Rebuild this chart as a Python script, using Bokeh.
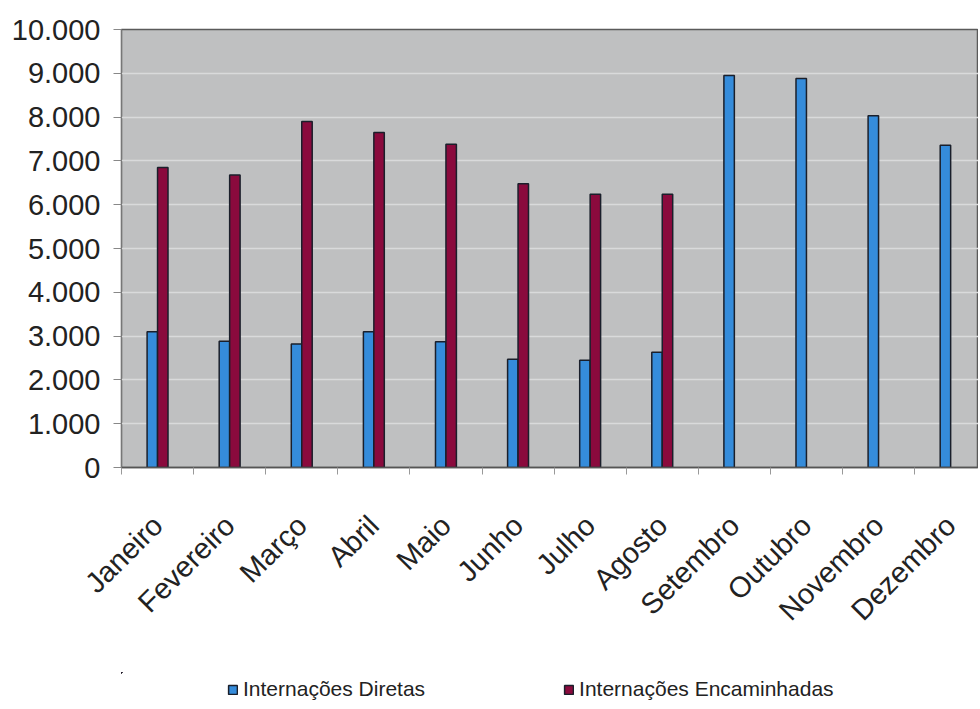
import math
from bokeh.plotting import figure
from bokeh.layouts import column
from bokeh.models import FixedTicker, Legend, LegendItem, Range1d, ColumnDataSource
from bokeh.embed import file_html
from bokeh.resources import INLINE

months = ["Janeiro", "Fevereiro", "Março", "Abril", "Maio", "Junho",
          "Julho", "Agosto", "Setembro", "Outubro", "Novembro", "Dezembro"]
diretas = [3100, 2880, 2820, 3100, 2870, 2470, 2450, 2630, 8950, 8880, 8030, 7360]
encaminhadas = [6850, 6680, 7900, 7650, 7380, 6480, 6240, 6240, None, None, None, None]
y_ticks = [0, 1000, 2000, 3000, 4000, 5000, 6000, 7000, 8000, 9000, 10000]
y_labels = ["0", "1.000", "2.000", "3.000", "4.000", "5.000", "6.000",
            "7.000", "8.000", "9.000", "10.000"]
series_names = ["Internações Diretas", "Internações Encaminhadas"]

BLUE = "#358cdb"
RED = "#8a0a3d"
OUTLINE = "#1a1f2b"
FONT = "Liberation Sans"

W = 978
H_MAIN, H_LEG = 672, 34
LEFT, TOP = 121, 29
BOTTOM = H_MAIN - 467
cat_px = 72.1
x_end = (W - LEFT) / cat_px

p = figure(width=W, height=H_MAIN, x_range=Range1d(0, x_end), y_range=Range1d(0, 10000),
           output_backend="svg", toolbar_location=None,
           min_border_left=LEFT, min_border_right=0, min_border_top=TOP,
           min_border_bottom=BOTTOM)

p.background_fill_color = "#bfc0c1"
p.border_fill_color = "white"
p.outline_line_color = "#5a5a5a"
p.outline_line_width = 1.5

bw = 0.145
src_d = ColumnDataSource(dict(x=[i + 0.5 - bw / 2 for i in range(len(months))], top=diretas))
xe = [i + 0.5 + bw / 2 for i, v in enumerate(encaminhadas) if v is not None]
te = [v for v in encaminhadas if v is not None]
src_e = ColumnDataSource(dict(x=xe, top=te))

p.vbar(x="x", top="top", width=bw, bottom=0, source=src_d,
       fill_color=BLUE, line_color=OUTLINE, line_width=1.5)
p.vbar(x="x", top="top", width=bw, bottom=0, source=src_e,
       fill_color=RED, line_color=OUTLINE, line_width=1.5)

# grid
p.xgrid.visible = False
p.ygrid.ticker = FixedTicker(ticks=y_ticks)
p.ygrid.grid_line_color = "#d9dadb"
p.ygrid.grid_line_width = 1.5

# y axis
ya = p.yaxis[0]
ya.ticker = FixedTicker(ticks=y_ticks)
ya.major_label_overrides = {t: l for t, l in zip(y_ticks, y_labels)}
ya.major_label_text_font = FONT
ya.major_label_text_font_size = "29px"
ya.major_label_text_color = "#222222"
ya.major_label_standoff = 13
ya.major_tick_out = 8
ya.major_tick_in = 0
ya.minor_tick_out = 0
ya.minor_tick_in = 0
ya.axis_line_color = "#777777"
ya.major_tick_line_color = "#888888"

# x axis
xa = p.xaxis[0]
xa.ticker = FixedTicker(ticks=[i + 0.5 for i in range(len(months))],
                        minor_ticks=list(range(len(months) + 1)))
xa.major_label_overrides = {i + 0.5: m for i, m in enumerate(months)}
xa.major_label_orientation = math.pi / 4
xa.major_label_text_font = FONT
xa.major_label_text_font_size = "29px"
xa.major_label_text_color = "#222222"
xa.major_label_standoff = 46
xa.major_tick_out = 0
xa.major_tick_in = 0
xa.minor_tick_out = 7
xa.minor_tick_in = 0
xa.minor_tick_line_color = "#999999"
xa.axis_line_color = "#555555"
xa.axis_line_width = 1.5

# legend strip (same data sources; the bars lie outside this strip's visible range)
lf = figure(width=W, height=H_LEG, x_range=Range1d(20, 32),
            y_range=Range1d(-20000, -10000),
            output_backend="svg", toolbar_location=None,
            x_axis_location=None, y_axis_location=None,
            min_border_left=0, min_border_right=0, min_border_top=0, min_border_bottom=0)
lf.xgrid.visible = False
lf.ygrid.visible = False
lf.outline_line_color = None
lf.background_fill_color = "white"
d1 = lf.vbar(x="x", top="top", width=bw, bottom=0, source=src_d,
             fill_color=BLUE, line_color=OUTLINE, line_width=1.5)
d2 = lf.vbar(x="x", top="top", width=bw, bottom=0, source=src_e,
             fill_color=RED, line_color=OUTLINE, line_width=1.5)

legend = Legend(items=[LegendItem(label=series_names[0], renderers=[d1]),
                       LegendItem(label=series_names[1], renderers=[d2])],
                orientation="horizontal", location=(106, 5),
                label_text_font=FONT, label_text_font_size="21px",
                label_text_color="#222222", glyph_width=11, glyph_height=11,
                label_standoff=5, spacing=138, padding=0, margin=0,
                border_line_color=None, background_fill_alpha=0)
lf.add_layout(legend, "center")

layout = column(p, lf, spacing=0)
open("out.html", "w").write(file_html(layout, INLINE))
